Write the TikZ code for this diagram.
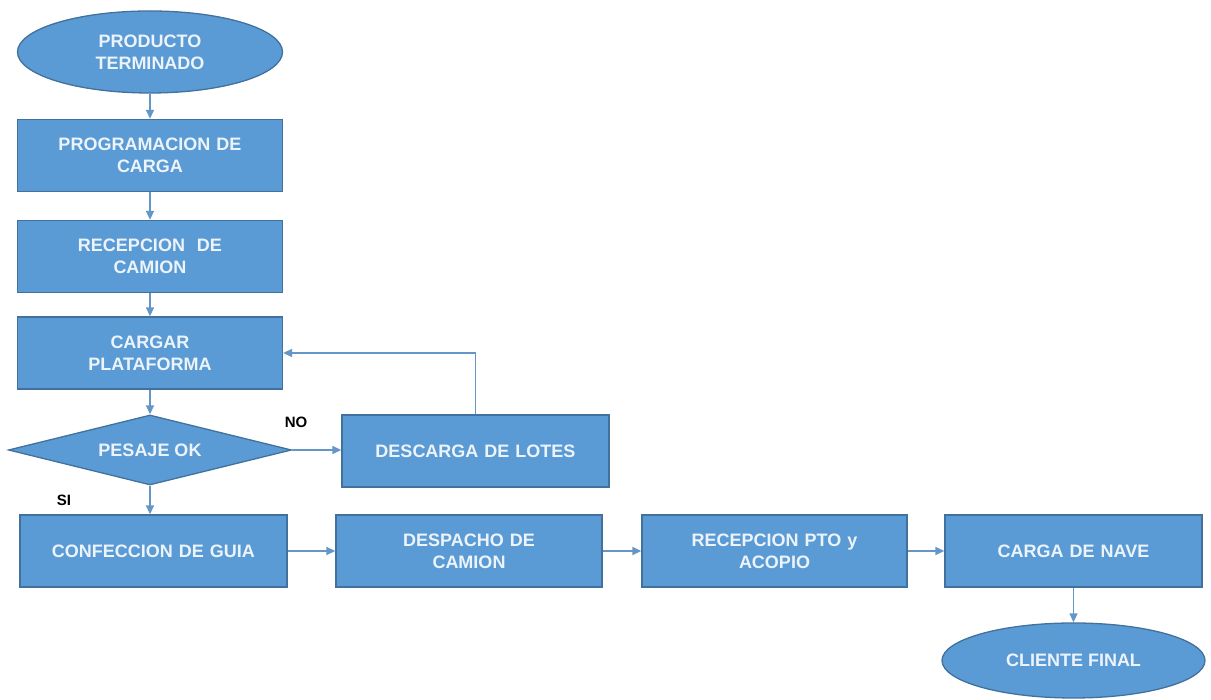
\documentclass[tikz,border=0pt]{standalone}
\usepackage{fontspec}
\setmainfont{Liberation Sans}
\usetikzlibrary{shapes.geometric,arrows.meta}
\definecolor{boxfill}{RGB}{91,155,213}
\definecolor{boxline}{RGB}{65,113,156}
\definecolor{arrowcol}{RGB}{100,150,200}
\definecolor{txt}{RGB}{236,243,250}
\tikzset{
  x=1pt,y=1pt,
  base/.style={fill=boxfill,draw=boxline,line width=1.3pt,text=txt,
    font=\fontsize{18}{22}\selectfont\bfseries,align=center,inner sep=0pt},
  procbox/.style={base,rectangle,minimum width=265pt,minimum height=72pt,text width=250pt},
  termin/.style={base,ellipse,minimum width=265pt,minimum height=82pt},
  decis/.style={base,diamond,minimum width=283pt,minimum height=70pt,aspect=4},
  conn/.style={draw=arrowcol,line width=1.4pt,-{Triangle[length=9pt,width=8pt]}},
  lab/.style={font=\fontsize{15}{17}\selectfont\bfseries,text=black}
}
\begin{document}
\begin{tikzpicture}
\useasboundingbox (0,0) rectangle (1211,700);
% y = 700 - pixel y
\node[termin] (e1) at (150,648) {PRODUCTO\\TERMINADO};
\node[procbox] (r1) at (150,544.5) {PROGRAMACION DE\\CARGA};
\node[procbox] (r2) at (150,443.5) {RECEPCION\ \ DE\\CAMION};
\node[procbox] (r3) at (150,347) {CARGAR\\PLATAFORMA};
\node[decis] (d) at (150,250) {PESAJE OK};
\node[procbox,minimum width=267pt] (r4) at (475.5,249) {DESCARGA DE LOTES};
\node[procbox,minimum width=267pt] (r5) at (153.5,149) {CONFECCION DE GUIA};
\node[procbox,minimum width=266pt] (r6) at (469,149) {DESPACHO DE\\CAMION};
\node[procbox,minimum width=265pt] (r7) at (774.5,149) {RECEPCION PTO y\\ACOPIO};
\node[procbox,minimum width=257pt] (r8) at (1073.5,149) {CARGA DE NAVE};
\node[termin,minimum width=263pt,minimum height=75pt] (e2) at (1073.5,39.5) {CLIENTE FINAL};
\node[lab] (no) at (296,278) {NO};
\node[lab] (si) at (64,200) {SI};
\draw[conn] (e1) -- (r1);
\draw[conn] (r1) -- (r2);
\draw[conn] (r2) -- (r3);
\draw[conn] (r3) -- (d);
\draw[conn] (d.east) -- (r4.west |- d.east);
\draw[conn] (r4.north) |- (r3.east);
\draw[conn] (d.south) -- (d.south |- r5.north);
\draw[conn] (r5) -- (r6);
\draw[conn] (r6) -- (r7);
\draw[conn] (r7) -- (r8);
\draw[conn] (r8) -- (e2);
\end{tikzpicture}
\end{document}
